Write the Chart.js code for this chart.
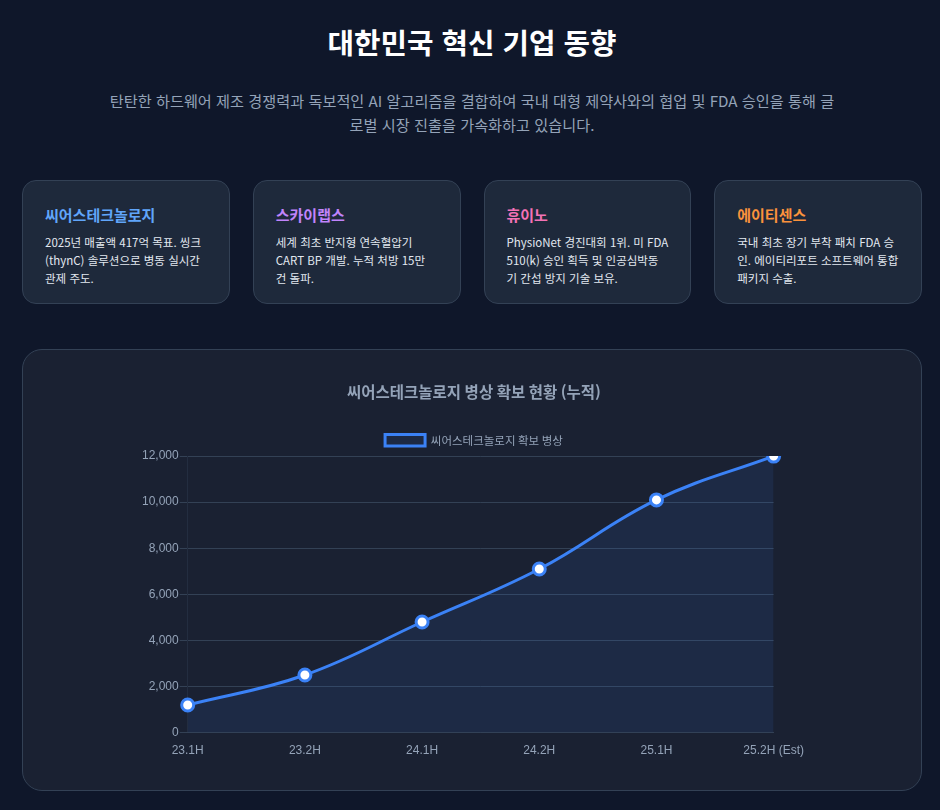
<!DOCTYPE html>
<html lang="ko">
<head>
    <meta charset="UTF-8">
    <meta name="viewport" content="width=device-width, initial-scale=1.0">
    <title>대한민국 혁신 기업 동향</title>
    <script src="https://cdn.jsdelivr.net/npm/chart.js@4.4.1/dist/chart.umd.min.js"></script>
    <style>
        body {
            font-family: 'Noto Sans CJK KR', 'Noto Sans', sans-serif;
            margin: 0;
            padding: 0 20px;
            background-color: #0f172a;
            color: #e2e8f0;
        }
        .container {
            max-width: 900px;
            margin: 0 auto;
            position: relative;
            left: 2px;
        }
        h1 {
            color: #ffffff;
            text-align: center;
            font-size: 28.8px;
            font-weight: 700;
            margin: 0;
            padding-top: 20px;
            line-height: 44px;
        }
        .intro {
            color: #94a3b8;
            text-align: center;
            font-size: 15.2px;
            line-height: 24px;
            max-width: 734px;
            margin: 24px auto 0;
        }
        .cards {
            display: flex;
            gap: 23px;
            margin-top: 44px;
        }
        .card {
            flex: 1;
            background-color: #1e293b;
            border: 1px solid #334155;
            border-radius: 14px;
            padding: 23px 22px 21px;
            height: 78px;
        }
        .card h3 {
            margin: 0 0 7px;
            font-size: 15px;
            font-weight: 700;
            line-height: 22px;
        }
        .card p {
            margin: 0;
            font-size: 11.5px;
            line-height: 18px;
            color: #e2e8f0;
        }
        .chart-container {
            background-color: #1a2132;
            border: 1px solid #334155;
            border-radius: 20px;
            margin-top: 45px;
            padding: 23px 0 29px;
        }
        .chart-box {
            width: 666px;
            height: 388px;
            margin: 0 auto;
            position: relative;
            left: 2px;
        }
    </style>
</head>
<body>
    <div class="container">
        <h1>대한민국 혁신 기업 동향</h1>
        <p class="intro">탄탄한 하드웨어 제조 경쟁력과 독보적인 AI 알고리즘을 결합하여 국내 대형 제약사와의 협업 및 FDA 승인을 통해 글로벌 시장 진출을 가속화하고 있습니다.</p>

        <div class="cards">
            <div class="card">
                <h3 style="color:#60a5fa">씨어스테크놀로지</h3>
                <p>2025년 매출액 417억 목표. 씽크(thynC) 솔루션으로 병동 실시간 관제 주도.</p>
            </div>
            <div class="card">
                <h3 style="color:#c084fc">스카이랩스</h3>
                <p>세계 최초 반지형 연속혈압기 CART BP 개발. 누적 처방 15만 건 돌파.</p>
            </div>
            <div class="card">
                <h3 style="color:#f472b6">휴이노</h3>
                <p>PhysioNet 경진대회 1위. 미 FDA 510(k) 승인 획득 및 인공심박동기 간섭 방지 기술 보유.</p>
            </div>
            <div class="card">
                <h3 style="color:#fb923c">에이티센스</h3>
                <p>국내 최초 장기 부착 패치 FDA 승인. 에이티리포트 소프트웨어 통합 패키지 수출.</p>
            </div>
        </div>

        <div class="chart-container">
            <div class="chart-box">
                <canvas id="bedChart"></canvas>
            </div>
        </div>
    </div>

    <script>
        // 반기별 누적 확보 병상
        const periods = ['23.1H', '23.2H', '24.1H', '24.2H', '25.1H', '25.2H (Est)'];
        const beds = [1200, 2500, 4800, 7100, 10100, 12000];
        const seriesName = '씨어스테크놀로지 확보 병상';
        const chartTitle = '씨어스테크놀로지 병상 확보 현황 (누적)';

        const tickColor = '#94a3b8';
        const gridColor = '#334155';

        new Chart(document.getElementById('bedChart'), {
            type: 'line',
            data: {
                labels: periods,
                datasets: [{
                    label: seriesName,
                    data: beds,
                    borderColor: '#3b82f6',
                    backgroundColor: 'rgba(59, 130, 246, 0.1)',
                    borderWidth: 3,
                    fill: true,
                    tension: 0.4,
                    pointRadius: 6,
                    pointBackgroundColor: '#ffffff',
                    pointBorderColor: '#3b82f6',
                    pointBorderWidth: 3
                }]
            },
            options: {
                responsive: true,
                maintainAspectRatio: false,
                animation: false,
                plugins: {
                    title: {
                        display: true,
                        text: chartTitle,
                        color: tickColor,
                        font: { family: "'Noto Sans CJK KR', sans-serif", size: 15.5, weight: 'bold' },
                        padding: { top: 10, bottom: 23 }
                    },
                    legend: {
                        labels: {
                            color: tickColor,
                            font: { family: "'Noto Sans CJK KR', sans-serif", size: 11.5 }
                        }
                    }
                },
                scales: {
                    y: {
                        beginAtZero: true,
                        max: 12000,
                        ticks: { color: tickColor, stepSize: 2000, padding: 1, font: { size: 12 } },
                        grid: { color: gridColor },
                        border: { color: 'rgba(51, 65, 85, 0.4)' }
                    },
                    x: {
                        ticks: { color: tickColor, font: { size: 12 } },
                        grid: { display: false },
                        border: { color: gridColor }
                    }
                }
            }
        });
    </script>
</body>
</html>
